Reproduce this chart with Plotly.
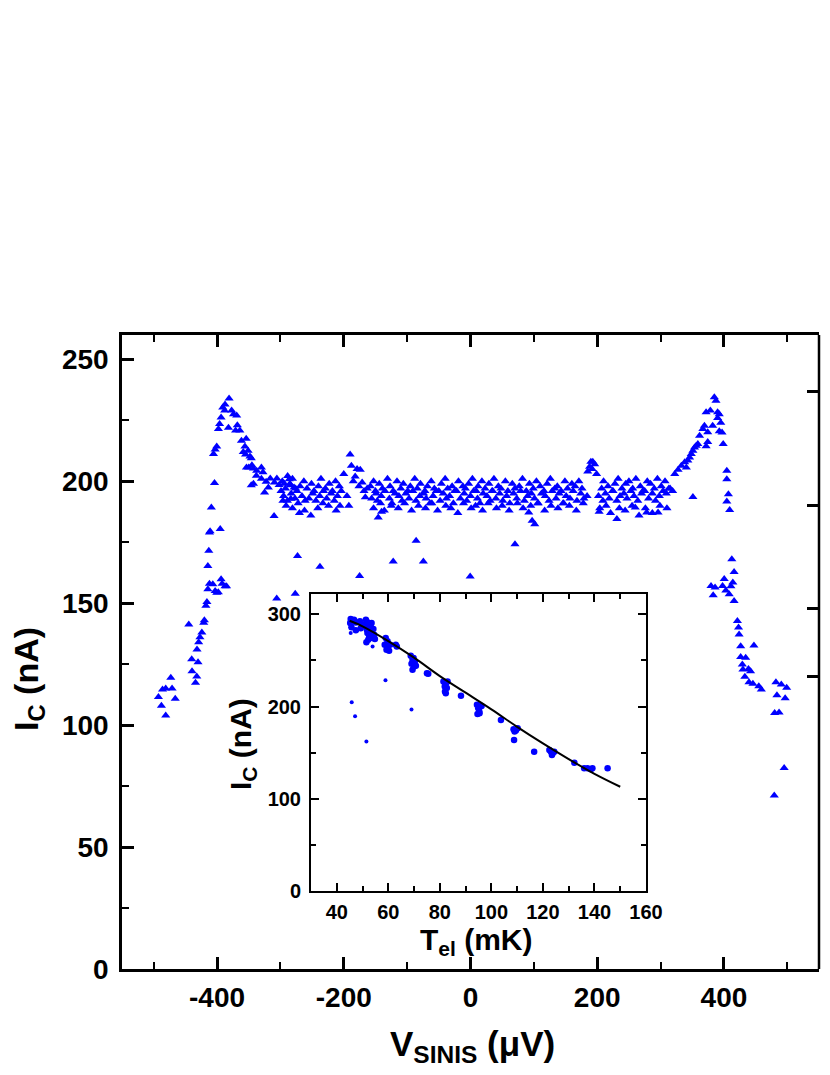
"""Critical current vs SINIS bias, with I_C(T_el) inset"""
import plotly.graph_objects as go

# ---- main panel: I_C (nA) vs V_SINIS (uV) ----
v_left = [-492.5, -487.8, -481, -486, -481, -473, -471, -466,
          -444.6, -440, -439.5, -434, -432, -430, -431.6, -429, -427, -424, -421, -420,
          -417.6, -416, -414.5, -412, -414.5, -413, -412, -411, -409, -404, -405.6, -403,
          -400.5, -406.7, -403, -400.5, -398, -393.6, -392, -387.4, -385, -395, -397.8,
          -396, -393.6, -391, -387.4, -381, -388, -382, -377, -374, -369, -370.7, -368,
          -364, -361.5, -356, -354, -358.6, -355, -351, -348, -346, -353.6, -350, -345,
          -342.5, -337.5, -330, -327.5, -338, -330, -322.5, -346, -342.5, -325, -319, -316,
          -309.4, -305.6, -302, -299, -294, -288.6, -286, -283.6, -278.4, -296, -283.6, -276]
ic_left = [111.5, 108, 104, 114.6, 115, 119.4, 115, 110.8,
           141.3, 127, 122.1, 117.4, 120, 125.8, 131, 134, 136, 138, 142, 143,
           149, 150.5, 155.7, 158, 165.3, 171.5, 179, 179.5, 189.3, 199.3, 211.2, 213,
           214.3, 157.8, 155, 154.3, 154.5, 159.8, 158, 157, 157, 180.4, 221.4,
           223.5, 226.2, 230.3, 231.5, 234, 229, 222, 229, 227.5, 227, 220.8, 223,
           220.8, 216.6, 214.3, 217.5, 212, 211, 212.5, 210.2, 209.5, 205.7, 205.7, 206.6,
           205.3, 204.3, 205.7, 203.7, 202.3, 201, 199.8, 198.4, 199, 195.4, 197.5, 201.2,
           199.5, 201.2, 198.5, 196, 199, 202.2, 200.8, 198.4, 197.5, 192, 192.8, 197]

v_band_top = [-297, -292, -285, -281, -274, -269, -263, -258, -251, -247, -240, -236, -229,
              -223, -218, -213, -207,
              -158, -153, -150, -144, -139, -131, -127, -122, -116, -110,
              -106, -99, -95, -88, -84, -79, -72, -68, -62, -57,
              -50, -46, -40, -36, -29, -25, -19, -12, -8, -3,
              3, 9, 12, 18, 23, 29, 35, 37, 44, 48,
              55, 59, 66, 70, 77, 82, 88, 93, 99, 104,
              110, 116, 121, 126, 133, 137, 143, 149, 153, 160,
              165, 171, 176,
              207, 210, 217, 224, 228, 233, 239, 245, 250, 256,
              261, 268, 272, 279, 284, 290, 295, 301, 307, 313]
ic_band_top = [200, 197, 199, 201, 196, 198, 200, 197, 199, 196, 198, 201, 197,
               199, 196, 200, 198,
               198, 200, 196, 199, 197, 201, 198, 196, 200, 197,
               199, 196, 198, 201, 197, 199, 196, 198, 200, 197,
               196, 199, 201, 197, 198, 196, 200, 198, 197, 199,
               201, 196, 198, 200, 197, 199, 196, 201, 198, 197,
               200, 196, 199, 197, 198, 201, 196, 199, 197, 200,
               198, 196, 199, 201, 197, 198, 196, 200, 197, 199,
               198, 200, 197,
               197, 200, 198, 196, 199, 201, 197, 199, 200, 197,
               201, 198, 196, 200, 199, 197, 201, 198, 200, 197]

v_band_mid = [-295, -289, -283, -277, -272, -266, -261, -255, -249, -244, -238, -232, -227,
              -220, -215, -210, -204,
              -156, -149, -147, -141, -135, -128, -124, -119, -113, -108,
              -102, -97, -91, -86, -80, -74, -70, -64, -59, -54,
              -48, -43, -38, -33, -27, -22, -16, -10, -6, 0,
              5, 11, 15, 20, 26, 31, 34, 40, 46, 51,
              57, 62, 68, 73, 79, 85, 90, 96, 101, 107,
              112, 118, 124, 129, 135, 140, 146, 151, 157, 162,
              168, 174, 179, 184,
              202, 209, 213, 219, 225, 231, 236, 242, 247, 253,
              258, 264, 270, 275, 281, 287, 292, 298, 304, 309, 315, 319]
ic_band_mid = [194, 192, 195, 193, 191, 194, 192, 193, 195, 192, 194, 196, 193,
               195, 192, 194, 196,
               193, 195, 192, 194, 196, 193, 191, 195, 194, 192,
               195, 193, 196, 192, 194, 195, 193, 191, 194, 196,
               192, 195, 193, 194, 191, 196, 193, 195, 192, 194,
               196, 193, 191, 195, 194, 192, 196, 193, 195, 192,
               194, 191, 195, 193, 196, 192, 194, 195, 193, 191,
               195, 194, 192, 196, 193, 195, 191, 194, 193, 196,
               192, 195, 193, 194,
               194, 192, 195, 193, 196, 192, 194, 195, 193, 196,
               194, 192, 195, 196, 193, 195, 192, 194, 196, 195, 197, 196]

v_band_low = [-291, -281, -270, -262, -252, -241, -233, -224, -212, -206,
              -153, -142, -136, -125, -114, -104, -93, -82, -71, -61,
              -52, -39, -31, -20, -11, 1, 8, 19, 28, 41,
              50, 61, 74, 83, 95, 106, 117, 127, 138, 147,
              156, 167, 178,
              204, 214, 221, 235, 244, 255, 266, 276, 287, 299, 310]
ic_band_low = [190, 189, 187, 188, 186, 189, 191, 190, 188, 190,
               189, 191, 188, 190, 189, 191, 188, 190, 189, 191,
               188, 190, 189, 187, 191, 189, 190, 188, 191, 189,
               190, 188, 191, 189, 190, 191, 188, 190, 189, 191,
               190, 188, 191,
               189, 190, 187, 189, 188, 190, 186, 189, 187, 190, 189]

v_bumps = [-200, -195, -192, -190, -188, -185, -182, -179, -176, -174, -171, -168, -166,
           -163, 185, 188, 190, 193, 196, 199, 192]
ic_bumps = [203, 194, 190, 211, 206.4, 200, 202, 205, 198, 204.7, 199.5, 196, 193.5,
            197, 204, 206, 208, 208, 207, 203, 205]

v_right = [322.4, 327.6, 332.8, 338, 340.6, 343, 345.8, 348.4, 351, 353.6, 356.2, 358.8,
           361.5, 366.7, 369.2, 371.8, 374.4, 371.8, 374.4, 378.5, 382.2, 384.8, 387.4, 390,
           390, 392.6, 395, 392.6, 397, 398.8, 404.5, 404.5, 407, 404.5, 409, 351,
           412.4, 416, 379.6, 383, 386, 397.8, 400.4, 403, 408.3, 411, 414, 416, 421.2, 423,
           423.9, 426.4, 447.3, 426.4, 434.3, 429, 430, 438.7, 442, 433, 439.5, 445.7, 455,
           459, 482, 490.5, 499, 483.6, 496.6, 480, 487, 495, 479.4]
ic_right = [203, 204.7, 206.4, 207.8, 205.7, 208.5, 209.8, 211.2, 212.5, 213.9, 214.6, 215.3,
            218.7, 221.4, 222.8, 228.3, 220.1, 214.4, 216.1, 229, 222.8, 234.5, 233, 228.3,
            226, 227.5, 224, 220.5, 220, 215.3, 204.3, 200.8, 194.7, 191.7, 188.2, 193.6,
            168, 162.8, 157.1, 153.3, 156.5, 157.1, 159.9, 155.2, 153.7, 157, 158.5, 150.9, 142.7, 140,
            137.2, 132.4, 132.7, 128, 127.6, 124.9, 122.8, 123, 122.1, 119.8, 117.6, 117, 116,
            114.6, 117.6, 116.7, 115.3, 112.3, 111, 105, 105.2, 82.4, 71.2]

v_scatter = [-310, -273, -237.6, -175, -305.8, -276.6, -145.6, -140.4, -85.8, -122, -74.4,
             -0.5, 70.2, 92, 97.3, 101.4, 231, 203, 260, 278, 296]
ic_scatter = [185.8, 169.4, 165, 161.2, 151.9, 153.9, 185.2, 187.5, 175.6, 167.1, 167.1,
              161, 174.2, 187.2, 183.8, 182.4, 184.5, 187.5, 189.3, 187.2, 187.2]

x_tick_vals = [-400, -200, 0, 200, 400]
x_tick_text = ["-400", "-200", "0", "200", "400"]
right_ticks = [120, 148, 190, 237]

# ---- inset: I_C (nA) vs T_el (mK) ----
t_big = [45.4, 46.1, 46.7, 45.2, 45.7, 47.4, 47.4, 49, 49.3, 49.9, 50.6, 51.3, 51.9, 51.7,
         52.6, 53.2, 53.5, 51.9, 52.6, 53.2, 53.9, 54.5, 54.2, 51.5, 52.2, 54.8,
         59, 59.7, 58.6, 59.3, 60.3, 59.7, 60.7, 62.9, 63.3,
         68.7, 69.4, 69.8, 70.3, 69, 69.4, 70, 70.7, 75, 75.5,
         81.4, 81.9, 82.3, 82.7, 82, 82.3, 83, 88.2,
         94.4, 94.9, 95.3, 95.7, 96.2, 94.6, 95.4, 103.7,
         108.6, 109.5, 110.2, 108.8, 109, 116.6,
         122.5, 123.1, 123.8, 124.4, 123.5, 132.2, 136, 137.3, 138.6, 139.2, 145.1]
ic_big = [295, 293.5, 294, 290.6, 286, 291, 282.6, 292.4, 285, 288.8, 287, 294, 291.3, 283.3,
          288.8, 286.2, 290.6, 279.7, 276, 279.7, 274.3, 277.9, 284, 269.6, 272.5, 273.2,
          274.3, 270.7, 267, 261.6, 260.5, 265.2, 267, 267, 265.2,
          255, 250.7, 252.5, 249, 246.4, 239.9, 243.5, 244.2, 236.2, 235.5,
          227.2, 221.7, 224.6, 220, 216.3, 214.5, 227.2, 211.6,
          201.8, 198.2, 194.6, 200, 200.7, 192, 192.8, 185.5,
          175.4, 173.9, 176.4, 163.8, 172.8, 151,
          152.9, 151, 149.3, 151.1, 147.5, 139.1, 133, 133, 131.9, 133, 133]

t_small = [45.4, 45.4, 48, 45.8, 47.1, 51.5, 53.9, 58.9, 69]
ic_small = [285.9, 279.7, 283, 204.7, 189.5, 162, 265.2, 228.6, 196.7]

t_fit = [45, 50, 60, 70, 80, 90, 100, 110, 120, 130, 140, 150]
ic_fit = [293, 287, 271, 253, 233, 215, 197, 178, 160, 143, 127, 113]

BLUE = "#0000ff"
FONT = "Liberation Sans, Arial, sans-serif"

# the page body keeps its default 8px margin: the figure starts at (8, 8) and is
# made small enough that the page never scrolls
PAGE_W, PAGE_H, OFF = 830, 1075, 8
W, H = PAGE_W - 2 * OFF, PAGE_H - 2 * OFF
# plot area on screen
L, R, T, B = 122, 819, 335, 969


def px(x, y):
    return (x - L) / (R - L), (B - y) / (B - T)


v_main = v_left + v_band_top + v_band_mid + v_band_low + v_bumps + v_right + v_scatter
ic_main = ic_left + ic_band_top + ic_band_mid + ic_band_low + ic_bumps + ic_right + ic_scatter

fig = go.Figure()
fig.add_trace(go.Scatter(x=v_main, y=ic_main, mode="markers",
                         marker=dict(symbol="triangle-up", size=8, color=BLUE, line_width=0),
                         xaxis="x", yaxis="y"))
# empty trace so the right-hand tick axis gets drawn
fig.add_trace(go.Scatter(x=[], y=[], xaxis="x", yaxis="y3"))
fig.add_trace(go.Scatter(x=t_big, y=ic_big, mode="markers",
                         marker=dict(symbol="circle", size=6.5, color=BLUE, line_width=0),
                         xaxis="x2", yaxis="y2"))
fig.add_trace(go.Scatter(x=t_small, y=ic_small, mode="markers",
                         marker=dict(symbol="circle", size=4, color=BLUE, line_width=0),
                         xaxis="x2", yaxis="y2"))
fig.add_trace(go.Scatter(x=t_fit, y=ic_fit, mode="lines", line=dict(color="black", width=2, shape="spline"),
                         xaxis="x2", yaxis="y2"))

axis_common = dict(showline=True, linecolor="black", showgrid=False, zeroline=False,
                   ticks="inside", tickcolor="black", automargin=False)

# inset box on screen: x 311..646, y 594..891
ix0, iy0 = px(311, 891)
ix1, iy1 = px(646, 594)

fig.update_layout(
    width=W, height=H,
    margin=dict(l=L - OFF, r=OFF + W - R, t=T - OFF, b=OFF + H - B),
    paper_bgcolor="white", plot_bgcolor="white",
    showlegend=False,
    font=dict(family=FONT, color="black"),
    xaxis=dict(**axis_common, domain=[0, 1], range=[-550, 550], anchor="y",
               tickvals=x_tick_vals, ticktext=x_tick_text, ticklen=12, tickwidth=2.5,
               linewidth=2.5, mirror="ticks",
               minor=dict(ticks="inside", tick0=0, dtick=100, ticklen=7, tickwidth=2, tickcolor="black"),
               tickfont=dict(size=28, weight="bold"), ticklabelstandoff=2),
    yaxis=dict(**axis_common, domain=[0, 1], range=[0, 260], anchor="x",
               tick0=0, dtick=50, ticklen=12, tickwidth=2.5, linewidth=2.5,
               minor=dict(ticks="inside", tick0=0, dtick=25, ticklen=7, tickwidth=2, tickcolor="black"),
               tickfont=dict(size=28, weight="bold"), ticklabelstandoff=5),
    yaxis3=dict(overlaying="y", side="right", anchor="x", range=[0, 260], automargin=False,
                showline=False, showgrid=False, zeroline=False,
                tickvals=right_ticks, ticks="inside", ticklen=12, tickwidth=2.5, tickcolor="black",
                showticklabels=False),
    xaxis2=dict(**axis_common, domain=[ix0, ix1], range=[30, 160], anchor="y2",
                tick0=0, dtick=20, ticklen=8, tickwidth=2, linewidth=2, mirror="ticks",
                minor=dict(ticks="inside", tick0=0, dtick=10, ticklen=5, tickwidth=1.5, tickcolor="black"),
                tickfont=dict(size=20, weight="bold"), ticklabelstandoff=2),
    yaxis2=dict(**axis_common, domain=[iy0, iy1], range=[0, 322], anchor="x2",
                tick0=0, dtick=100, ticklen=8, tickwidth=2, linewidth=2, mirror="ticks",
                minor=dict(ticks="inside", tick0=0, dtick=50, ticklen=5, tickwidth=1.5, tickcolor="black"),
                tickfont=dict(size=20, weight="bold"), ticklabelstandoff=4),
)

# right-hand frame line of the main panel
fig.add_shape(type="line", xref="paper", yref="paper", x0=1, x1=1, y0=0, y1=1,
              line=dict(color="black", width=2.5))

titles = [
    ("I<sub>C</sub> (nA)", 28, 679, 34, -90),
    ("V<sub>SINIS</sub> (μV)", 473, 1046, 35, 0),
    ("I<sub>C</sub> (nA)", 242, 744, 30, -90),
    ("T<sub>el</sub> (mK)", 477, 941, 30, 0),
]
for text, x, y, size, angle in titles:
    ax, ay = px(x, y)
    fig.add_annotation(text=text, x=ax, y=ay, xref="paper", yref="paper",
                       xanchor="center", yanchor="middle", showarrow=False, textangle=angle,
                       font=dict(size=size, weight="bold", family=FONT))

fig.write_html("out.html")
